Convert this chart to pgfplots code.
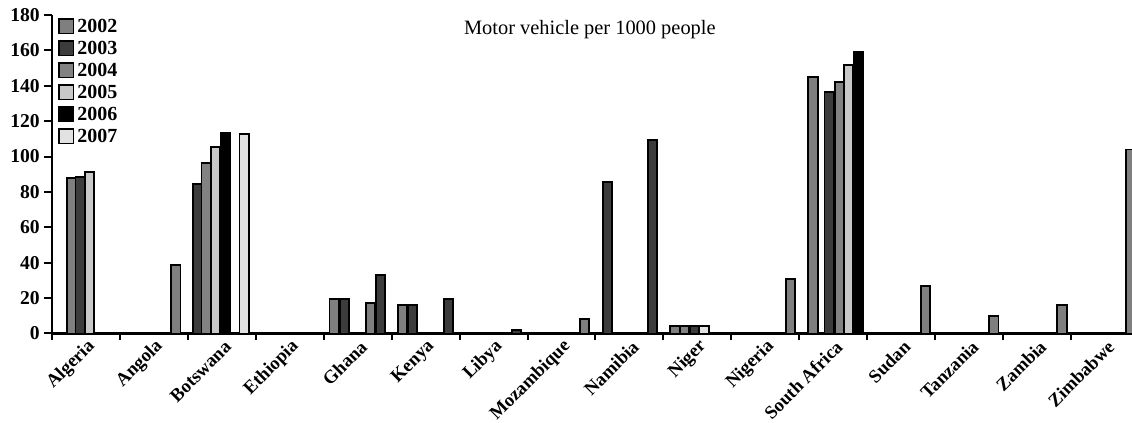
\documentclass[border=0pt]{standalone}
\usepackage{fontspec}
\setmainfont{Liberation Serif}
\usepackage{pgfplots}
\pgfplotsset{compat=1.18}
\definecolor{c02}{HTML}{7F7F7F}
\definecolor{c03}{HTML}{3C3C3C}
\definecolor{c04}{HTML}{828282}
\definecolor{c05}{HTML}{C8C8C8}
\definecolor{c06}{HTML}{000000}
\definecolor{c07}{HTML}{E2E2E2}
\begin{document}
\begin{tikzpicture}
\begin{axis}[
  at={(0,0)}, anchor=south west,
  scale only axis, width=540pt, height=159.25pt,
  xmin=-0.5, xmax=15.399, ymin=0, ymax=180,
  axis x line*=bottom, axis y line*=left,
  axis line style={line width=1.1pt},
  ytick={0,20,...,180},
  xtick={0,1,...,15},
  xticklabels={Algeria,Angola,Botswana,Ethiopia,Ghana,Kenya,Libya,Mozambique,Namibia,Niger,Nigeria,South Africa,Sudan,Tanzania,Zambia,Zimbabwe},
  minor xtick={-0.5,0.5,...,14.5},
  tick align=outside, major tick length=4pt, minor tick length=3.5pt,
  every tick/.style={black, line width=1pt},
  major x tick style={opacity=0},
  xticklabel style={rotate=45, anchor=east, font=\fontsize{9.3}{9.3}\selectfont\bfseries, xshift=4.8pt, yshift=-3pt},
  /pgf/number format/assume math mode=true,
  yticklabel style={font=\fontsize{9.8}{9.8}\selectfont\bfseries, xshift=1.4pt},
  ybar, bar width=0.137,
  every axis plot/.append style={bar shift=0pt, draw=black, line width=0.95pt},
  legend style={at={(0.0056,1)}, anchor=north west, draw=none, fill=none,
    font=\fontsize{10}{10}\selectfont\bfseries, inner sep=0pt, row sep=0pt,
    nodes={inner sep=1.5pt, text height=7pt, text depth=1pt},
    /tikz/every even column/.append style={column sep=0pt}},
  legend cell align=left,
  legend image code/.code={\draw[#1, line width=0.8pt] (0pt,-3.6pt) rectangle (7.2pt,3.6pt);},
]
\addplot[fill=c02] coordinates {(-0.215,87.7) (1.323,38.7) (3.654,19.3) (4.189,17) (4.657,16.1) (7.341,8) (8.670,4.2) (10.369,30.6) (10.703,145) (12.362,26.8) (13.365,10) (14.368,16.1) (15.384,104)};
\addplot[fill=c03] coordinates {(-0.086,88.6) (1.638,84.3) (3.810,19.3) (4.334,32.9) (4.804,16.1) (5.339,19.3) (6.340,2) (7.678,85.8) (8.344,109.3) (8.957,4.2) (10.941,136.3)};
\addplot[fill=c04] coordinates {(1.770,96.2) (8.813,4.2) (11.093,142.3)};
\addplot[fill=c05] coordinates {(0.049,91.5) (1.905,105.5) (11.223,151.7)};
\addplot[fill=c06] coordinates {(2.054,113.1) (11.370,159.2)};
\addplot[fill=c07] coordinates {(2.329,112.7) (9.100,4.2)};
\legend{2002,2003,2004,2005,2006,2007}
\node[font=\fontsize{10.2}{10.2}\selectfont] at (rel axis cs:0.498,0.953) {Motor vehicle per 1000 people};
\end{axis}
\pgfresetboundingbox
\path[use as bounding box] (-26pt,-44.75pt) rectangle (540pt,166.75pt);
\end{tikzpicture}
\end{document}
